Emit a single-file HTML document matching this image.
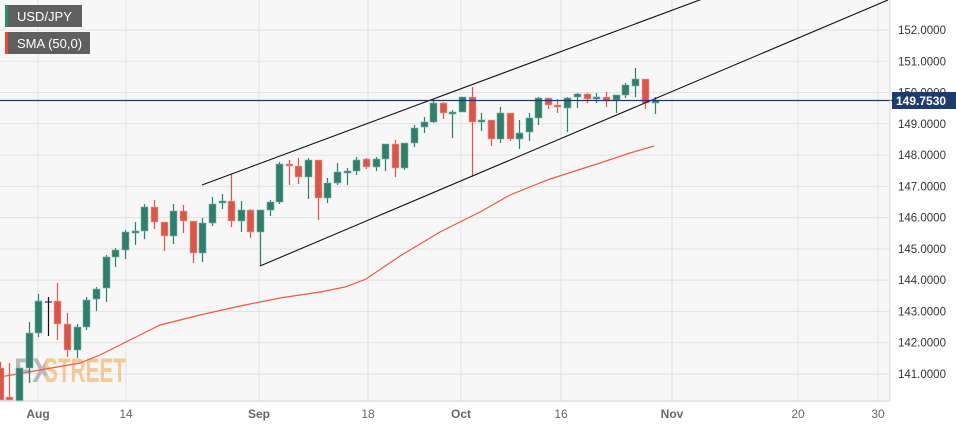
<!DOCTYPE html>
<html><head><meta charset="utf-8"><style>
html,body{margin:0;padding:0;background:#fff;}
svg{display:block;font-family:"Liberation Sans",sans-serif;}
</style></head><body>
<svg id="c" width="956" height="427" viewBox="0 0 956 427" xmlns="http://www.w3.org/2000/svg">
<rect x="0" y="0" width="956" height="427" fill="#ffffff"/>
<rect x="0" y="0" width="890" height="401" fill="#f7f7f7"/>
<g id="grid" stroke="#e2e2e2" stroke-width="1"></g>
<g id="wm" font-size="34" font-weight="bold" opacity="0.55">
<text x="14" y="382" fill="#8a8a8a" textLength="38" lengthAdjust="spacingAndGlyphs">FX</text>
<text x="44" y="382" fill="#f0a54a" textLength="82" lengthAdjust="spacingAndGlyphs">STREET</text>
</g>
<polyline fill="none" stroke="#f05a40" stroke-width="1.2" points="0,377 40,370 80,363 100,355 120,345 160,325 200,315 240,306 260,302 280,298 320,292 345,287 366,279 400,256 440,232 480,212 510,195 550,179 600,163 630,153 654,146"/>
<g id="candles"></g>
<line x1="202" y1="185" x2="705" y2="-2" stroke="#111" stroke-width="1.1"/>
<line x1="260" y1="266" x2="888" y2="0" stroke="#111" stroke-width="1.1"/>
<line x1="0" y1="100.5" x2="893" y2="100.5" stroke="#1f3a6e" stroke-width="1.2"/>
<line x1="890" y1="0" x2="890" y2="401" stroke="#d8d8d8"/>
<line x1="0" y1="401" x2="890" y2="401" stroke="#cfcfd8"/>
<g id="ylab" font-size="11.5" fill="#333"></g>
<rect x="892" y="92" width="64" height="17" fill="#1f3a6e"/>
<text x="896" y="105" font-size="12" font-weight="bold" fill="#fff">149.7530</text>
<g font-size="12" font-weight="bold" fill="#666" text-anchor="middle">
<text x="38" y="418">Aug</text><text x="126" y="418" font-weight="normal">14</text>
<text x="259" y="418">Sep</text><text x="368" y="418" font-weight="normal">18</text>
<text x="461" y="418">Oct</text><text x="561" y="418" font-weight="normal">16</text>
<text x="672" y="418">Nov</text><text x="798" y="418" font-weight="normal">20</text>
<text x="878" y="418" font-weight="normal">30</text>
</g>
<rect x="5" y="5" width="77" height="22" fill="#5f5f5f"/>
<rect x="5" y="5" width="3" height="22" fill="#2e8a70"/>
<text x="17" y="21" font-size="13" fill="#fff">USD/JPY</text>
<rect x="5" y="32" width="85" height="22" fill="#5f5f5f"/>
<rect x="5" y="32" width="3" height="22" fill="#e8473a"/>
<text x="17" y="48" font-size="13" fill="#fff">SMA (50,0)</text>
</svg>
<script>
var ns="http://www.w3.org/2000/svg";
function el(t,a,p){var e=document.createElementNS(ns,t);for(var k in a)e.setAttribute(k,a[k]);p.appendChild(e);return e;}
var g=document.getElementById('grid'),yl=document.getElementById('ylab');
for(var p=152;p>=141;p--){var y=30+(152-p)*31.27;el('line',{x1:0,x2:890,y1:y,y2:y},g);
var t=el('text',{x:898,y:y+4},yl);t.textContent=p.toFixed(4);}
[38,126,259,368,461,561,672,798,878].forEach(function(x){el('line',{x1:x,x2:x,y1:0,y2:401},g);});
// x, color, bodyTop, bodyBot, high, low
var C=[[0,'r',368,400,362,400],[9,'r',397,400,363,400],[19,'g',368,401,368,401],[29,'g',333,368,322,383],
[38,'g',301,333,294,337],[48,'k',301,303,297,336],[57,'r',301,324,283,340],[67,'r',324,350,313,357],
[77,'g',327,350,324,358],[86,'g',300,327,297,330],[96,'g',289,299,287,311],[106,'g',257,288,255,302],
[115,'g',250,257,248,267],[125,'g',232,250,230,259],[135,'g',231,233,222,245],[144,'g',207,231,204,239],
[154,'r',207,222,200,229],[164,'r',222,236,222,251],[173,'g',211,236,204,244],[183,'r',211,221,205,233],
[193,'r',221,253,221,263],[202,'g',223,253,218,262],[212,'g',204,223,197,226],[222,'g',201,203,194,209],
[231,'r',201,221,174,227],[241,'g',210,221,201,232],[250,'r',210,232,209,238],[260,'g',210,232,210,266],
[270,'g',202,210,200,216],[279,'g',164,202,162,204],[289,'r',164,166,160,185],[298,'r',166,177,158,184],
[308,'g',160,177,158,199],[318,'r',160,198,160,220],[327,'g',183,198,178,203],[337,'g',172,183,163,185],
[347,'g',171,173,168,185],[356,'g',160,171,157,175],[366,'r',159,167,158,169],[376,'g',159,167,157,171],
[385,'g',144,159,144,171],[395,'r',144,168,140,177],[404,'g',143,168,143,170],[414,'g',128,143,125,147],
[424,'g',122,127,117,133],[433,'g',103,122,99,123],[443,'r',103,113,102,119],[452,'g',112,114,110,138],
[462,'g',97,112,97,112],[472,'r',97,122,87,177],[481,'g',120,122,113,131],[491,'r',120,139,120,146],
[500,'g',113,139,107,143],[510,'r',113,139,113,141],[519,'g',133,139,120,149],[529,'g',118,132,113,141],
[538,'g',98,118,97,125],[548,'r',98,105,98,109],[557,'r',105,107,99,113],[567,'g',98,108,97,132],
[577,'g',94,97,93,108],[587,'r',94,99,93,103],[596,'g',97,99,93,103],[606,'r',97,101,92,107],
[616,'g',95,100,95,113],[625,'g',85,95,83,98],[635,'g',79,86,68,97],[645,'r',79,103,79,109],[655,'g',101,103,97,114]];
var cg=document.getElementById('candles');
C.forEach(function(c){var col=c[1]=='g'?'#2f7f6c':(c[1]=='r'?'#d9574a':'#111');
el('line',{x1:c[0]+0.5,x2:c[0]+0.5,y1:c[4],y2:c[5],stroke:col,'stroke-width':1.2},cg);
if(c[1]=='k'){el('line',{x1:c[0]-3,x2:c[0]+4,y1:c[2]+1,y2:c[2]+1,stroke:col},cg);return;}
el('rect',{x:c[0]-3,y:c[2],width:7,height:Math.max(1.5,c[3]-c[2]),fill:col,stroke:c[1]=='g'?'#7fb3a5':'#eea79e','stroke-width':0.6},cg);});
</script>
</body></html>
